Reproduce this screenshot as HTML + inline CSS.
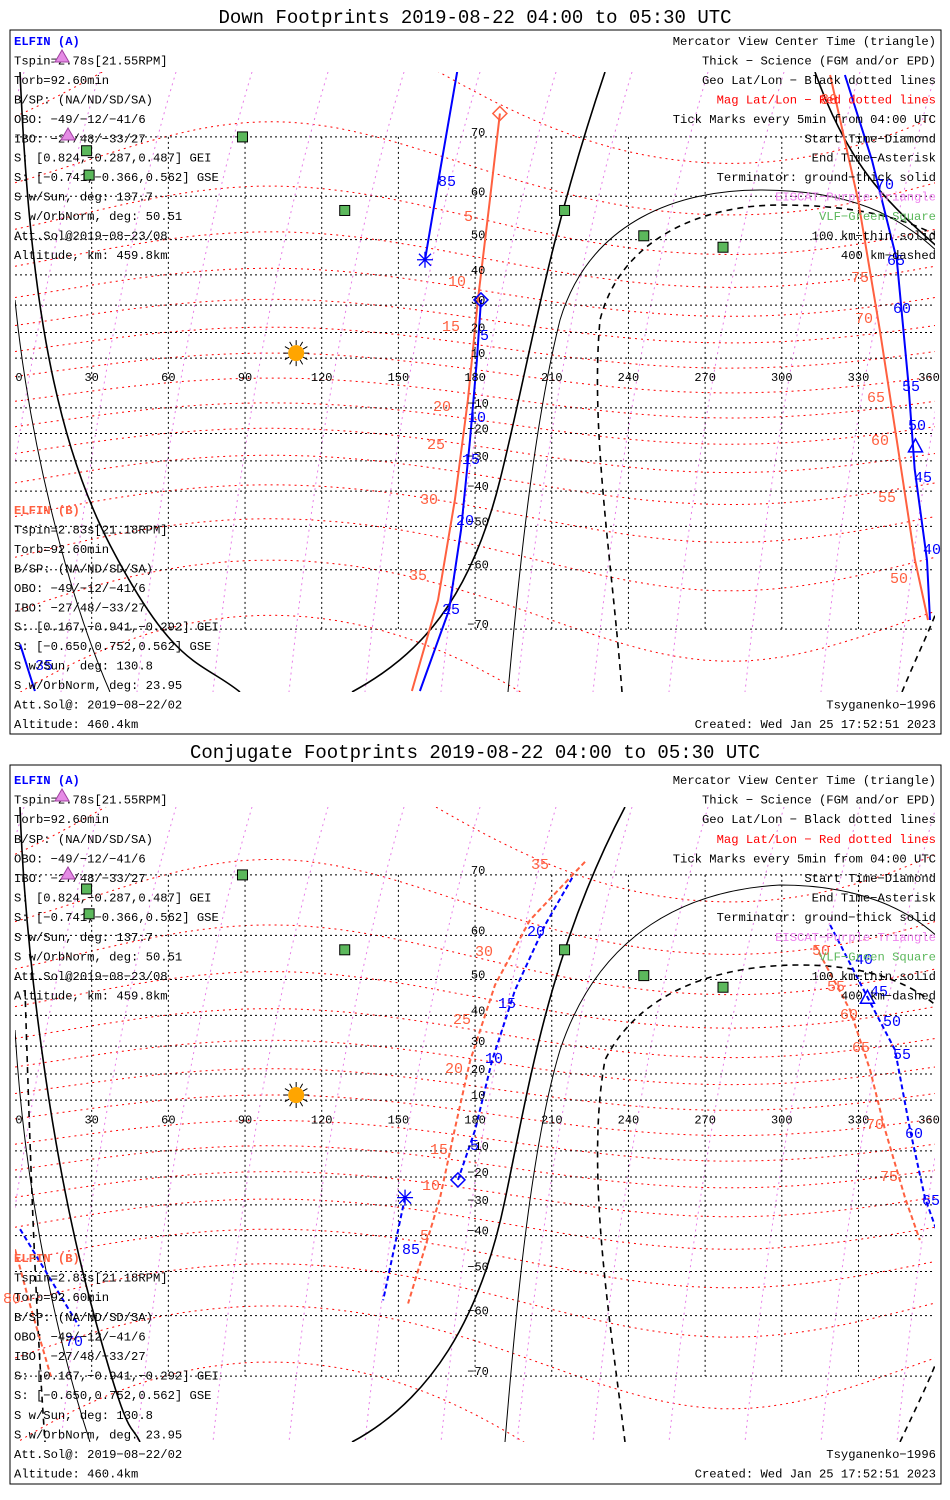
<!DOCTYPE html>
<html><head><meta charset="utf-8"><style>
html,body{margin:0;padding:0;background:#fff;width:950px;height:1500px;overflow:hidden;position:relative}
svg{display:block;position:absolute;left:0;top:0}
text{font-family:"Liberation Mono",monospace}
#chart{font-size:12px}
.t{font-size:19px}
</style></head><body>
<svg id="chart" width="950" height="1500" viewBox="0 0 950 1500" xmlns="http://www.w3.org/2000/svg">
<rect width="950" height="1500" fill="#fff"/>
<text class="t" x="475" y="23" text-anchor="middle">Down Footprints 2019-08-22 04:00 to 05:30 UTC</text>
<text class="t" x="475" y="758" text-anchor="middle">Conjugate Footprints 2019-08-22 04:00 to 05:30 UTC</text>
<rect x="10" y="30" width="931" height="704" fill="none" stroke="#000"/>
<rect x="10" y="765" width="931" height="719" fill="none" stroke="#000"/>
<g id="p1"></g>
<g id="p2"></g>
</svg>
<script>
// ---- data (lon, lat in degrees) ----
const lonTicks=[0,30,60,90,120,150,180,210,240,270,300,330,360];
const latTicks=[70,60,50,40,30,20,10,-10,-20,-30,-40,-50,-60,-70];
// Panel 1 (down footprints)
const p1A1Lon=[182.3,180.7,178.0,174.5,169.8,158.4];
const p1A1Lat=[31.8,9.2,-22.4,-51,-67.2,-77];
const p1A2Lon=[173,166.3,160.4];
const p1A2Lat=[77.3,64.8,44.5];
const p1A3Lon=[324.7,335.3,345,349.4,352,356.8,358];
const p1A3Lat=[77,66.5,44.5,1.2,-32.9,-58,-68.7];
const p1A4Lon=[2,7.8];
const p1A4Lat=[-72,-77];
const p1B1Lon=[189.7,185.8,181.1,177.2,172.1,165.5,155.3];
const p1B1Lat=[73,59.3,31.8,-6.8,-42.6,-65.6,-77];
const p1B2Lon=[318.9,329.8,338.4,345.5,352.1,357.2];
const p1B2Lat=[77,59.3,20.5,-25.7,-58,-68.7];
const p1TriLon=[352.3];
const p1TriLat=[-25];
// Panel 2 (conjugate footprints)
const p2A1Lon=[218,207.4,195.6,186.6,180,173.3];
const p2A1Lat=[69.6,62,47.2,24.7,-1.8,-21.1];
const p2A2Lon=[152.6,144];
const p2A2Lat=[-27.5,-56.8];
const p2A3Lon=[318.9,333,344.3,350.2,356,361.9];
const p2A3Lat=[62,46,28.7,-1.8,-27.5,-41.3];
const p2A4Lon=[2,12,25];
const p2A4Lat=[-38,-50,-62];
const p2B1Lon=[223,201.5,187.8,178,172,166.3,153.8];
const p2B1Lat=[71.7,62.9,48.6,24.7,-1.8,-27.5,-57.5];
const p2B2Lon=[313,326.7,334.5,340.4,348.2,354];
const p2B2Lat=[58,41.6,21.6,-1.8,-27.5,-41.3];
const p2B3Lon=[0,6,14];
const p2B3Lat=[-44,-58,-70];
const p2TriLon=[333.5];
const p2TriLat=[45];
const vlfLon=[89,28,29,129,215,246,277];
const vlfLat=[70,68,64,57,57,51,48];
const sunLon=[110];
const sunLat=[12];

const NS='http://www.w3.org/2000/svg';
const P1={g:document.getElementById('p1'),eq:383,k:141.8,top:72,bot:692,oy:0,pre:'p1'};
const P2={g:document.getElementById('p2'),eq:1125.5,k:144.4,top:807,bot:1442,oy:739,pre:'p2'};
function X(lon){return 15+lon*2.556;}
function Y(p,lat){const m=Math.log(Math.tan(Math.PI/4+lat*Math.PI/360));return p.eq-p.k*m;}
function mk(tag,attrs,parent){const e=document.createElementNS(NS,tag);for(const a in attrs)e.setAttribute(a,attrs[a]);parent.appendChild(e);return e;}

function setup(p){
  const cp=mk('clipPath',{id:p.pre+'clip'},p.g);
  mk('rect',{x:15,y:p.top,width:920,height:p.bot-p.top},cp);
  const g=mk('g',{'clip-path':'url(#'+p.pre+'clip)'},p.g);
  p.m=g;
  for(let L=-70;L<=80;L+=10){
    let d='';
    for(let lon=0;lon<=360;lon+=6){
      let la=L+8*Math.sin((lon-10)*Math.PI/180)-6;
      la=Math.max(-85,Math.min(85,la));
      d+=(lon?'L':'M')+X(lon).toFixed(1)+','+Y(p,la).toFixed(1);
    }
    const e=mk('path',{d:d,fill:'none',stroke:'#f00','stroke-width':1,'stroke-dasharray':'2,4'},g);
    
    
  }
  for(let i=-1;i<14;i++){
    const x0=15+i*76;
    const e=mk('path',{d:'M'+(x0+85)+','+p.top+' Q'+(x0+10)+','+(p.eq-60)+' '+(x0-30)+','+p.bot,fill:'none',stroke:'#e87ee8','stroke-width':1,'stroke-dasharray':'2,4'},g);
    
    
  }
  latTicks.forEach(la=>{
    const y=Y(p,la);
    const e=mk('line',{x1:15,x2:935,y1:y,y2:y,stroke:'#000','stroke-dasharray':'2,3'},g);
    
    
    const t=mk('text',{x:X(180)+3,y:y-1,'text-anchor':'middle'},p.g);
    t.textContent=String(la).replace('-','\u2212');
    
    
  });
  lonTicks.forEach(lo=>{
    const x=X(lo);
    if(lo>0&&lo<360){
      const e=mk('line',{x1:x,x2:x,y1:Y(p,70),y2:Y(p,-70),stroke:'#000','stroke-dasharray':'2,3'},g);
      
      
    }
    const t=mk('text',{x:lo===0?19:(lo===360?929:x),y:p.eq-2,'text-anchor':'middle'},p.g);
    t.textContent=String(lo);
    
    
  });
}
function track(p,lons,lats,color,dashed,name){
  let d='';
  lons.forEach((lo,i)=>{d+=(i?'L':'M')+X(lo).toFixed(1)+','+Y(p,lats[i]).toFixed(1);});
  const e=mk('path',{d:d,fill:'none',stroke:color,'stroke-width':2,'stroke-dasharray':dashed?'5,3':'none'},p.m);
  
  
}
function diamond(p,lo,la,color,name){
  const x=X(lo),y=Y(p,la);
  const e=mk('path',{d:`M${x},${y-7}L${x+7},${y}L${x},${y+7}L${x-7},${y}Z`,fill:'none',stroke:color,'stroke-width':1.5},p.g);
  
  
}
function aster(p,lo,la,color,name){
  const x=X(lo),y=Y(p,la);
  const e=mk('path',{d:`M${x-8},${y}H${x+8}M${x},${y-8}V${y+8}M${x-6},${y-6}L${x+6},${y+6}M${x-6},${y+6}L${x+6},${y-6}`,stroke:color,'stroke-width':1.3},p.g);
  
  
}
function tri(p,lo,la,color,name){
  const x=X(lo),y=Y(p,la);
  const e=mk('path',{d:`M${x},${y-8}L${x+7},${y+5}L${x-7},${y+5}Z`,fill:'none',stroke:color,'stroke-width':1.5},p.g);
  
  
}
function extras(p){
  vlfLon.forEach((lo,i)=>{
    const e=mk('rect',{x:X(lo)-5,y:Y(p,vlfLat[i])-5,width:10,height:10,fill:'#5cb85c',stroke:'#000'},p.g);
    
    
  });
  const sx=X(sunLon[0]),sy=Y(p,sunLat[0]);
  let d='';for(let a=0;a<360;a+=30){const r=a*Math.PI/180;d+=`M${sx+8*Math.cos(r)},${sy+8*Math.sin(r)}L${sx+13*Math.cos(r)},${sy+13*Math.sin(r)}`;}
  const rays=mk('path',{d:d,stroke:'#000','stroke-width':1},p.g);
  
  
  const s=mk('circle',{cx:sx,cy:sy,r:8,fill:'#ffa500'},p.g);
  
  
}
function term(p,d,w,dash,name){
  const e=mk('path',{d:d,fill:'none',stroke:'#000','stroke-width':w,'stroke-dasharray':dash},p.m);
  
  
}
setup(P1);setup(P2);
term(P1,'M20,72 C28,250 45,420 110,545 S200,660 240,692',1.6,'none','terminator-ground');
term(P1,'M352,692 C420,655 470,600 500,480 S545,250 605,72',1.6,'none','terminator-ground');
term(P1,'M815,72 C850,170 890,205 941,250',1.6,'none','terminator-ground');
term(P1,'M15,300 C30,450 70,600 110,692',1,'none','terminator-100km');
term(P1,'M508,692 C520,560 535,420 560,320 C590,220 680,190 760,190 C850,190 900,215 941,255',1,'none','terminator-100km');
term(P1,'M622,692 C612,560 590,430 600,320 C620,240 700,205 780,205 C860,205 910,220 941,238',1.6,'6,5','terminator-400km');
term(P1,'M902,692 C915,660 930,630 941,600',1.6,'6,5','terminator-400km');
term(P2,'M20,807 C25,950 50,1150 90,1300 S130,1420 140,1442',1.6,'none','terminator-ground');
term(P2,'M352,1442 C430,1400 480,1320 505,1200 S550,950 625,807',1.6,'none','terminator-ground');
term(P2,'M15,1030 C25,1200 60,1350 90,1442',1,'none','terminator-100km');
term(P2,'M505,1442 C515,1320 530,1150 560,1050 C600,930 690,890 780,885 C860,885 910,910 941,940',1,'none','terminator-100km');
term(P2,'M625,1442 C610,1320 585,1170 605,1060 C640,990 720,965 800,965 C880,965 920,990 941,1010',1.6,'6,5','terminator-400km');
term(P2,'M25,990 C30,1150 35,1300 45,1442',1.6,'6,5','terminator-400km');
term(P2,'M900,1442 C915,1410 930,1380 941,1350',1.6,'6,5','terminator-400km');
const BL='#0000ff',RD='#ff6040';
track(P1,p1B1Lon,p1B1Lat,RD,false,'elfin-b-track');
track(P1,p1B2Lon,p1B2Lat,RD,false,'elfin-b-track');
track(P1,p1A1Lon,p1A1Lat,BL,false,'elfin-a-track');
track(P1,p1A2Lon,p1A2Lat,BL,false,'elfin-a-track');
track(P1,p1A3Lon,p1A3Lat,BL,false,'elfin-a-track');
track(P1,p1A4Lon,p1A4Lat,BL,false,'elfin-a-track');
track(P2,p2B1Lon,p2B1Lat,RD,true,'elfin-b-track');
track(P2,p2B2Lon,p2B2Lat,RD,true,'elfin-b-track');
track(P2,p2B3Lon,p2B3Lat,RD,true,'elfin-b-track');
track(P2,p2A1Lon,p2A1Lat,BL,true,'elfin-a-track');
track(P2,p2A2Lon,p2A2Lat,BL,true,'elfin-a-track');
track(P2,p2A3Lon,p2A3Lat,BL,true,'elfin-a-track');
track(P2,p2A4Lon,p2A4Lat,BL,true,'elfin-a-track');
diamond(P1,p1A1Lon[0],p1A1Lat[0],BL,'start-diamond-a');
diamond(P1,p1B1Lon[0],p1B1Lat[0],RD,'start-diamond-b');
aster(P1,p1A2Lon[p1A2Lon.length-1],p1A2Lat[p1A2Lat.length-1],BL,'end-asterisk-a');
tri(P1,p1TriLon[0],p1TriLat[0],BL,'center-triangle');
diamond(P2,p2A1Lon[p2A1Lon.length-1],p2A1Lat[p2A1Lat.length-1],BL,'start-diamond-a');
aster(P2,p2A2Lon[0],p2A2Lat[0],BL,'end-asterisk-a');
tri(P2,p2TriLon[0],p2TriLat[0],BL,'center-triangle');
extras(P1);extras(P2);
</script>
<svg width="950" height="1500">
<g style="font-size:15px">
<g fill="#ff6040">
<text x="464" y="221">5</text><text x="448" y="286">10</text><text x="442" y="331">15</text><text x="433" y="411">20</text><text x="427" y="449">25</text><text x="420" y="504">30</text><text x="409" y="580">35</text>
<text x="820" y="104">80</text><text x="851" y="282">75</text><text x="855" y="323">70</text><text x="867" y="402">65</text><text x="871" y="445">60</text><text x="878" y="502">55</text><text x="890" y="583">50</text>
<text x="531" y="869">35</text><text x="475" y="956">30</text><text x="453" y="1024">25</text><text x="445" y="1073">20</text><text x="430" y="1154">15</text><text x="422" y="1190">10</text><text x="420" y="1240">5</text>
<text x="812" y="955">50</text><text x="827" y="991">55</text><text x="840" y="1019">60</text><text x="852" y="1052">65</text><text x="866" y="1129">70</text><text x="880" y="1181">75</text><text x="3" y="1303">80</text>
</g>
<g fill="#0000ff">
<text x="438" y="186">85</text><text x="480" y="340">5</text><text x="468" y="422">10</text><text x="462" y="464">15</text><text x="456" y="525">20</text><text x="442" y="614">25</text><text x="35" y="670">35</text>
<text x="876" y="189">70</text><text x="887" y="265">65</text><text x="893" y="313">60</text><text x="902" y="391">55</text><text x="908" y="430">50</text><text x="914" y="482">45</text><text x="923" y="554">40</text>
<text x="527" y="936">20</text><text x="498" y="1008">15</text><text x="485" y="1063">10</text><text x="470" y="1150">5</text><text x="402" y="1254">85</text>
<text x="855" y="964">40</text><text x="870" y="996">45</text><text x="883" y="1026">50</text><text x="893" y="1059">55</text><text x="905" y="1138">60</text><text x="922" y="1205">65</text><text x="65" y="1346">70</text>
</g></g>
<g style="font-size:12.2px">
<g id="left1"></g>
</g>
</svg>
<script>
const leftA=['Tspin=2.78s[21.55RPM]','Torb=92.60min','B/SP: (NA/ND/SD/SA)','OBO: \u221249/\u221212/\u221241/6','IBO: \u221227/48/\u221233/27','S: [0.824,\u22120.287,0.487] GEI','S: [\u22120.741,\u22120.366,0.562] GSE','S w/Sun, deg: 137.7','S w/OrbNorm, deg: 50.51','Att.Sol@2019\u221208\u221223/08','Altitude, km: 459.8km'];
const leftB=['Tspin=2.83s[21.18RPM]','Torb=92.60min','B/SP: (NA/ND/SD/SA)','OBO: \u221249/\u221212/\u221241/6','IBO: \u221227/48/\u221233/27','S: [0.167,\u22120.941,\u22120.292] GEI','S: [\u22120.650,0.752,0.562] GSE','S w/Sun, deg: 130.8','S w/OrbNorm, deg: 23.95','Att.Sol@: 2019\u221208\u221222/02','Altitude: 460.4km'];
const rightT=[['Mercator View Center Time (triangle)','#000'],['Thick \u2212 Science (FGM and/or EPD)','#000'],['Geo Lat/Lon \u2212 Black dotted lines','#000'],['Mag Lat/Lon \u2212 Red dotted lines','#f00'],['Tick Marks every 5min from 04:00 UTC','#000'],['Start Time\u2212Diamond','#000'],['End Time\u2212Asterisk','#000'],['Terminator: ground\u2212thick solid','#000'],['EISCAT\u2212Purple Triangle','#ee82ee'],['VLF\u2212Green Square','#5cb85c'],['100 km\u2212thin solid','#000'],['400 km\u2212dashed','#000']];
const ann=document.getElementById('left1');
const SN='http://www.w3.org/2000/svg';
function tx(x,y,s,col,anchor,name,bold){const t=document.createElementNS(SN,'text');t.setAttribute('x',x);t.setAttribute('y',y);t.setAttribute('fill',col);if(anchor)t.setAttribute('text-anchor',anchor);if(bold)t.setAttribute('font-weight','bold');t.textContent=s;


ann.appendChild(t);}
[0,739].forEach((oy,pi)=>{
  const h=pi?19.6:19.45;
  tx(14,45+oy,'ELFIN (A)','#0000ff',null,'elfin-a-label',true);
  leftA.forEach((s,i)=>tx(14,45+oy+(i+1)*h,s,'#000',null,'elfin-a-info'));
  const by=pi?1262:514;
  tx(14,by,'ELFIN (B)','#ff6040',null,'elfin-b-label',true);
  leftB.forEach((s,i)=>tx(14,by+(i+1)*h,s,'#000',null,'elfin-b-info'));
  rightT.forEach((r,i)=>tx(936,45+oy+i*h,r[0],r[1],'end','legend-entry'));
  tx(936,by+10*h,'Tsyganenko\u22121996','#000','end','model-label');
  tx(936,by+11*h,'Created: Wed Jan 25 17:52:51 2023','#000','end','created-label');
  [[62,56],[68,134]].forEach(p=>{const e=document.createElementNS(SN,'path');e.setAttribute('d',`M${p[0]},${p[1]+oy-6}L${p[0]+7},${p[1]+oy+6}L${p[0]-7},${p[1]+oy+6}Z`);e.setAttribute('fill','#e58be5');e.setAttribute('stroke','#a040a0');
  
  
  ann.appendChild(e);});
});
</script>
</body></html>
